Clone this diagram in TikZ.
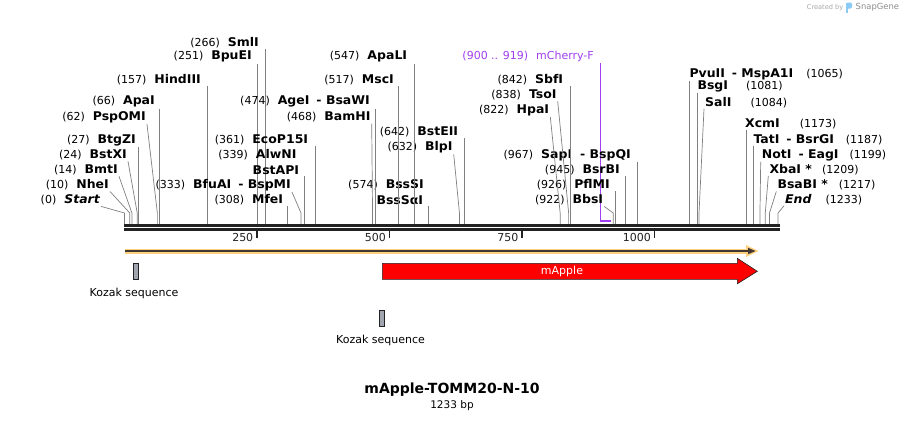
\documentclass[tikz,border=0pt]{standalone}
\usepackage{fontspec}
\setmainfont{DejaVu Sans}
\newfontfamily\enzfont{DejaVu Sans}[FakeStretch=1.04]
\usetikzlibrary{calc}

\definecolor{leadgray}{RGB}{128,128,128}
\definecolor{seqblack}{RGB}{34,34,34}
\definecolor{orfhalo}{RGB}{255,208,128}
\definecolor{orfline}{RGB}{64,56,48}
\definecolor{primer}{RGB}{160,64,240}
\definecolor{kozak}{RGB}{160,165,175}
\definecolor{sgblue}{RGB}{90,180,240}
\newcommand{\en}[1]{{\enzfont\bfseries\fontsize{12}{13}\selectfont #1}}

\begin{document}
\begin{tikzpicture}[x=1pt, y=-1pt,
    enz/.style={inner sep=1pt, font=\fontsize{11}{13}\selectfont},
    lead/.style={draw=leadgray, line width=0.7pt}]
        \fill[white] (0,0) rectangle (904,421);
        \useasboundingbox (0,0) rectangle (904,421);
        % cut sites on the sequence, s = on the line, k = knee of the leader
        \foreach \p in {0,10,14,24,27,62,66,157,251,266,308,333,339,361,468,474,517,547,574,632,642,822,838,842,900,919,922,926,945,967,1065,1081,1084,1173,1187,1199,1209,1217,1233}
        {\coordinate (s\p) at (124.5+0.53*\p,224); \coordinate (k\p) at (124.5+0.53*\p,213);}
        \draw[seqblack, line width=2.2pt] (124,225.5) -- (779.5,225.5);
        \draw[seqblack, line width=2.2pt] (124,229.4) -- (779.5,229.4);
        \foreach \t in {250,500,750,1000} % ruler
        \draw[seqblack, line width=1.5pt] (124.5+0.53*\t,230.5) -- (124.5+0.53*\t,237.8)
        node[enz, anchor=east, xshift=-2pt] (t\t) {\t};

        % left group
        \node[enz, anchor=east] (start) at (101,200) {(0)\hspace{8pt}\en{\itshape Start}};
        \node[enz, anchor=east] (nhe) at (110,185) {(10)\hspace{8pt}\en{NheI}};
        \node[enz, anchor=east] (bmt) at (119,170) {(14)\hspace{8pt}\en{BmtI}};
        \node[enz, anchor=east] (bstx) at (128,155) {(24)\hspace{8pt}\en{BstXI}};
        \node[enz, anchor=east] (btgz) at (137,140) {(27)\hspace{8pt}\en{BtgZI}};
        \node[enz, anchor=east] (psp) at (147,117.3) {(62)\hspace{8pt}\en{PspOMI}};
        \node[enz, anchor=east] (apa) at (156,101.7) {(66)\hspace{8pt}\en{ApaI}};
        \node[enz, anchor=east] (hind) at (202,79.5) {(157)\hspace{8pt}\en{HindIII}};
        \node[enz, anchor=east] (bpue) at (253,56.7) {(251)\hspace{8pt}\en{BpuEI}};
        \node[enz, anchor=east] (sml) at (260,42.3) {(266)\hspace{8pt}\en{SmlI}};
        \draw[lead] (start.south east) -- (k0) -- (s0);
        \draw[lead] (nhe.south east) -- (k10) -- (s10);
        \draw[lead] (bmt.south east) -- (k14) -- (s14);
        \draw[lead] (bstx.south east) -- (k24) -- (s24);
        \draw[lead] (btgz.south -| s27) -- (s27);
        \draw[lead] (psp.south east) -- (k62) -- (s62);
        \draw[lead] (apa.south -| s66) -- (s66);
        \draw[lead] (hind.south -| s157) -- (s157);
        \draw[lead] (bpue.south -| s251) -- (s251);
        \draw[lead] (sml.south -| s266) -- (s266);

        % middle group
        \node[enz, anchor=east] (mfe) at (284.3,200) {(308)\hspace{8pt}\en{MfeI}};
        \node[enz, anchor=east] (bfua) at (292,185) {(333)\hspace{8pt}\en{BfuAI}\hspace{7pt}\en{- BspMI}};
        \node[enz, anchor=east] (bstap) at (300.3,170) {\en{BstAPI}};
        \node[enz, anchor=east] (alwn) at (297.7,155) {(339)\hspace{8pt}\en{AlwNI}};
        \node[enz, anchor=east] (ecop) at (309.3,140) {(361)\hspace{8pt}\en{EcoP15I}};
        \node[enz, anchor=east] (bamh) at (371.7,117.3) {(468)\hspace{8pt}\en{BamHI}};
        \node[enz, anchor=east] (age) at (371,101.7) {(474)\hspace{8pt}\en{AgeI}\hspace{7pt}\en{- BsaWI}};
        \node[enz, anchor=east] (msc) at (395,80) {(517)\hspace{8pt}\en{MscI}};
        \node[enz, anchor=east] (apal) at (408.3,56.7) {(547)\hspace{8pt}\en{ApaLI}};
        \node[enz, anchor=east] (bsssa) at (424.3,200) {\en{BssSαI}};
        \node[enz, anchor=east] (bsss) at (425,185) {(574)\hspace{8pt}\en{BssSI}};
        \node[enz, anchor=east] (blp) at (453.7,147.3) {(632)\hspace{8pt}\en{BlpI}};
        \node[enz, anchor=east] (bste) at (459.3,131.7) {(642)\hspace{8pt}\en{BstEII}};
        \draw[lead] (mfe.south -| s308) -- (s308);
        \draw[lead] (bfua.south east) -- (k333) -- (s333);
        \draw[lead] (bstap.south -| s339) -- (s339);
        \draw[lead] (ecop.south -| s361) -- (s361);
        \draw[lead] (bamh.south east) -- (k468) -- (s468);
        \draw[lead] (age.south -| s474) -- (s474);
        \draw[lead] (msc.south -| s517) -- (s517);
        \draw[lead] (apal.south -| s547) -- (s547);
        \draw[lead] (bsssa.south -| s574) -- (s574);
        \draw[lead] (blp.south east) -- (k632) -- (s632);
        \draw[lead] (bste.south -| s642) -- (s642);

        % primer
        \node[enz, anchor=east, text=primer] (mch) at (595,56.7) {(900 .. 919)\hspace{8pt}mCherry-F};
        \coordinate (pr1) at (600.5,221);
        \coordinate (pr2) at (610.5,221);
        \draw[primer, line width=1.6pt] (mch.south -| pr1) -- (pr1) -- (pr2);

        % right middle group
        \node[enz, anchor=east] (hpa) at (550.3,110) {(822)\hspace{8pt}\en{HpaI}};
        \node[enz, anchor=east] (tso) at (557.7,95) {(838)\hspace{8pt}\en{TsoI}};
        \node[enz, anchor=east] (sbf) at (564.3,80) {(842)\hspace{8pt}\en{SbfI}};
        \node[enz, anchor=east] (bbs) at (604.3,200) {(922)\hspace{8pt}\en{BbsI}};
        \node[enz, anchor=east] (pflm) at (611,185) {(926)\hspace{8pt}\en{PflMI}};
        \node[enz, anchor=east] (bsrb) at (621,170) {(945)\hspace{8pt}\en{BsrBI}};
        \node[enz, anchor=east] (sap) at (632,155) {(967)\hspace{8pt}\en{SapI}\hspace{8pt}\en{- BspQI}};
        \draw[lead] (hpa.south east) -- (k822) -- (s822);
        \draw[lead] (tso.south east) -- (k838) -- (s838);
        \draw[lead] (sbf.south -| s842) -- (s842);
        \draw[lead] (bbs.south east) -- (k922) -- (s922);
        \draw[lead] (pflm.south -| s926) -- (s926);
        \draw[lead] (bsrb.south -| s945) -- (s945);
        \draw[lead] (sap.south -| s967) -- (s967);

        % right group
        \node[enz, anchor=west] (pvu) at (688.3,74) {\en{PvuII}\hspace{7pt}\en{- MspA1I}\hspace{13pt}(1065)};
        \node[enz, anchor=west] (bsg) at (696.3,86) {\en{BsgI}\hspace{18pt}(1081)};
        \node[enz, anchor=west] (sal) at (704,102.3) {\en{SalI}\hspace{19pt}(1084)};
        \node[enz, anchor=west] (xcm) at (744,124) {\en{XcmI}\hspace{20pt}(1173)};
        \node[enz, anchor=west] (tat) at (752.3,139.3) {\en{TatI}\hspace{7pt}\en{- BsrGI}\hspace{12pt}(1187)};
        \node[enz, anchor=west] (not) at (760.7,155) {\en{NotI}\hspace{7pt}\en{- EagI}\hspace{11pt}(1199)};
        \node[enz, anchor=west] (xba) at (768.3,169.3) {\en{XbaI *}\hspace{10pt}(1209)};
        \node[enz, anchor=west] (bsab) at (776.3,185) {\en{BsaBI *}\hspace{11pt}(1217)};
        \node[enz, anchor=west] (endl) at (784,199.3) {\en{\itshape End}\hspace{14pt}(1233)};
        \draw[lead] (pvu.south -| s1065) -- (s1065);
        \draw[lead] (bsg.south -| s1081) -- (s1081);
        \draw[lead] (sal.south west) -- (k1084) -- (s1084);
        \draw[lead] (xcm.south -| s1173) -- (s1173);
        \draw[lead] (tat.south -| s1187) -- (s1187);
        \draw[lead] (not.south west) -- (k1199) -- (s1199);
        \draw[lead] (xba.south west) -- (k1209) -- (s1209);
        \draw[lead] (bsab.south west) -- (k1217) -- (s1217);
        \draw[lead] (endl.south west) -- (k1233) -- (s1233);

        % features
        \draw[orfhalo, line width=5pt] (125,251) -- (749,251);
        \fill[orfhalo] (746,245) -- (758.5,251) -- (746,257) -- cycle;
        \draw[orfline, line width=1.8pt] (125,251) -- (750,251);
        \fill[orfline] (748,247.8) -- (755.5,251) -- (748,254.2) -- cycle;
        \filldraw[fill=red, draw=seqblack, line width=0.6pt] (382.3,263.3) -- (737.3,263.3) -- (737.3,258.3)
            -- (757.3,271.3) -- (737.3,283.8) -- (737.3,279.3) -- (382.3,279.3) -- cycle;
        \node[enz, text=white] (mapple) at (562,271) {mApple};
        \filldraw[fill=kozak, draw=seqblack, line width=0.6pt] (133.3,263.3) rectangle (138.3,279.3);
        \node[enz] (koz1) at (134,293) {Kozak sequence};
        \filldraw[fill=kozak, draw=seqblack, line width=0.6pt] (379.2,310.7) rectangle (384.6,326.3);
        \node[enz] (koz2) at (380.5,340) {Kozak sequence};

        % title
        \node[font=\bfseries\fontsize{14}{16}\selectfont] (title) at (452,390) {mApple-TOMM20-N-10};
        \node[font=\fontsize{10.5}{12}\selectfont] (len) at (452,405.5) {1233 bp};

        % watermark
        \node[anchor=west, inner sep=0pt, text=black!35, font=\fontsize{6.6}{8}\selectfont] (made) at (806.7,7.3) {Created by};
        \fill[sgblue!70] (846,2.5) rectangle (848.2,12.5);
        \fill[sgblue!70, rounded corners=1.5pt] (846,2.5) rectangle (852,8.5);
        \node[anchor=west, inner sep=0pt, text=black!45, font=\fontsize{8.4}{10}\selectfont] (sg) at (855.5,7.3) {SnapGene};
\end{tikzpicture}
\end{document}
